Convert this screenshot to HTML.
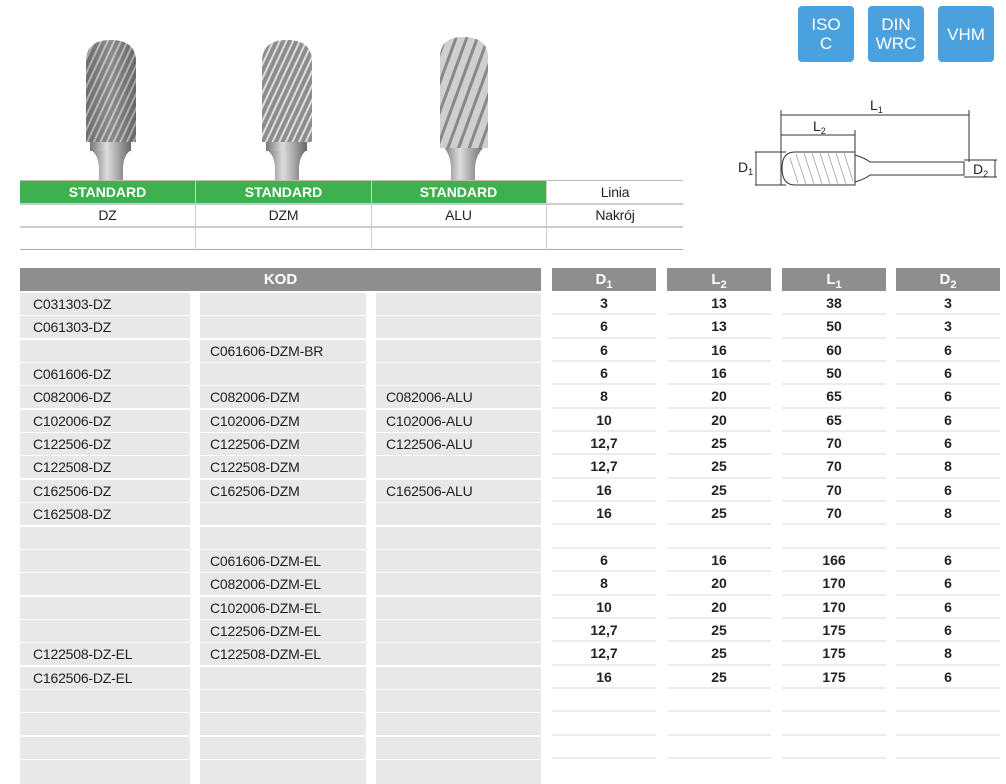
<!DOCTYPE html>
<html><head><meta charset="utf-8"><style>
body{margin:0;width:1006px;height:771px;background:#fff;position:relative;overflow:hidden;font-family:"Liberation Sans",sans-serif;}
.a{position:absolute;box-sizing:border-box;}
.t{font-size:14px;color:#222;letter-spacing:-0.2px;}
.g{background:#e8e8e8;}
.h{background:#8f8e8e;color:#fff;font-weight:bold;text-align:center;font-size:15px;}
.d{border-bottom:2px solid #ececec;text-align:center;font-weight:bold;font-size:14px;color:#222;}
.b{background:#4ba1de;color:#fff;border-radius:4px;text-align:center;font-size:17px;line-height:19px;display:flex;align-items:center;justify-content:center;}
</style></head><body>
<svg class="a" style="left:0;top:0" width="700" height="180">
<defs>
<linearGradient id="s" x1="0" x2="1"><stop offset="0" stop-color="#777"/><stop offset=".4" stop-color="#ddd"/><stop offset="1" stop-color="#666"/></linearGradient>
<linearGradient id="h" x1="0" x2="1"><stop offset="0" stop-color="#555"/><stop offset=".5" stop-color="#aaa"/><stop offset="1" stop-color="#444"/></linearGradient>
<pattern id="x" width="6" height="6" patternUnits="userSpaceOnUse" patternTransform="rotate(25)"><rect width="6" height="6" fill="#7a7a7a"/><rect width="2" height="6" fill="#d8d8d8"/></pattern>
<pattern id="y" width="10" height="10" patternUnits="userSpaceOnUse" patternTransform="rotate(20)"><rect width="10" height="10" fill="#bbb"/><rect width="3" height="10" fill="#555"/></pattern>
</defs>
<g>
<path d="M91 150 Q99 155 99 170 V182 H123 V170 Q123 155 131 150 Z" fill="url(#s)"/><rect x="90" y="140" width="41" height="11" fill="url(#s)"/>
<path d="M86 142 V62 Q86 40 111 40 Q136 40 136 62 V142 Z" fill="url(#x)"/>
<path d="M86 142 V62 Q86 40 111 40 Q136 40 136 62 V142 Z" fill="url(#h)" opacity=".35"/>
</g>
<g>
<path d="M267 150 Q275 155 275 170 V182 H299 V170 Q299 155 307 150 Z" fill="url(#s)"/><rect x="266" y="140" width="41" height="11" fill="url(#s)"/>
<path d="M262 142 V62 Q262 40 287 40 Q312 40 312 62 V142 Z" fill="url(#x)"/>
<path d="M262 142 V62 Q262 40 287 40 Q312 40 312 62 V142 Z" fill="#fff" opacity=".15"/>
</g>
<g>
<path d="M443 146 Q451 155 451 170 V182 H475 V170 Q475 155 485 146 Z" fill="url(#s)"/>
<path d="M440 148 V58 Q440 37 463 37 Q488 37 488 58 V148 Z" fill="url(#y)"/>
<path d="M440 148 V58 Q440 37 463 37 Q488 37 488 58 V148 Z" fill="#fff" opacity=".3"/>
</g>
</svg>
<div class="a" style="left:20px;top:180px;width:526px;height:23px;background:#3fb04e"></div>
<div class="a" style="left:20px;top:180px;width:663px;height:1px;background:#bbb"></div>
<div class="a" style="left:20px;top:203px;width:663px;height:2px;background:#ccc"></div>
<div class="a" style="left:20px;top:226px;width:663px;height:2px;background:#ccc"></div>
<div class="a" style="left:20px;top:249px;width:663px;height:1px;background:#aaa"></div>
<div class="a" style="left:195px;top:180px;width:1px;height:70px;background:#ccc"></div>
<div class="a" style="left:371px;top:180px;width:1px;height:70px;background:#ccc"></div>
<div class="a" style="left:546px;top:180px;width:1px;height:70px;background:#ccc"></div>
<div class="a" style="left:20px;top:184px;width:175px;text-align:center;color:#fff;font-weight:bold;font-size:14px">STANDARD</div>
<div class="a" style="left:196px;top:184px;width:175px;text-align:center;color:#fff;font-weight:bold;font-size:14px">STANDARD</div>
<div class="a" style="left:371px;top:184px;width:175px;text-align:center;color:#fff;font-weight:bold;font-size:14px">STANDARD</div>
<div class="a t" style="left:547px;top:184px;width:136px;text-align:center">Linia</div>
<div class="a t" style="left:20px;top:207px;width:175px;text-align:center">DZ</div>
<div class="a t" style="left:196px;top:207px;width:175px;text-align:center">DZM</div>
<div class="a t" style="left:371px;top:207px;width:175px;text-align:center">ALU</div>
<div class="a t" style="left:547px;top:207px;width:136px;text-align:center">Nakrój</div>
<div class="a b" style="left:798px;top:6px;width:56px;height:56px">ISO<br>C</div>
<div class="a b" style="left:868px;top:6px;width:56px;height:56px">DIN<br>WRC</div>
<div class="a b" style="left:938px;top:6px;width:56px;height:56px">VHM</div>
<svg class="a" style="left:720px;top:80px" width="286" height="120" font-family="Liberation Sans" font-size="14">
<g stroke="#333" fill="none" stroke-width="1">
<line x1="61" y1="35" x2="249" y2="35"/><line x1="61" y1="30" x2="61" y2="105"/><line x1="249" y1="30" x2="249" y2="82"/>
<line x1="61" y1="55" x2="135" y2="55"/><line x1="135" y1="50" x2="135" y2="72"/>
<line x1="35" y1="72" x2="66" y2="72"/><line x1="35" y1="105" x2="66" y2="105"/><line x1="36" y1="72" x2="36" y2="105"/>
<path d="M75 72 H135 V105 H75 Q62 105 62 88 Q62 72 75 72 Z" fill="#fff"/>
<path d="M135 75 Q145 78 150 82 H244 V95 H150 Q145 99 135 102"/>
<line x1="244" y1="82" x2="244" y2="95"/>
<line x1="244" y1="80" x2="277" y2="80"/><line x1="244" y1="97" x2="277" y2="97"/><line x1="275" y1="80" x2="275" y2="97"/>
</g>
<g stroke="#888" stroke-width=".6">
<path d="M70 78 l8 25 M76 74 l10 30 M84 73 l10 31 M92 73 l10 31 M100 73 l10 31 M108 73 l10 31 M116 73 l10 31 M124 73 l9 28"/>
</g>
<text x="150" y="30" fill="#222">L<tspan font-size="9" dy="3">1</tspan></text>
<text x="93" y="51" fill="#222">L<tspan font-size="9" dy="3">2</tspan></text>
<text x="18" y="92" fill="#222">D<tspan font-size="9" dy="3">1</tspan></text>
<text x="253" y="94" fill="#222">D<tspan font-size="9" dy="3">2</tspan></text>
</svg>
<div class="a h" style="left:20px;top:268px;width:521px;height:23px;line-height:23px">KOD</div>
<div class="a h" style="left:552px;top:268px;width:104px;height:23px;line-height:23px">D<sub style="font-size:11px">1</sub></div>
<div class="a h" style="left:667px;top:268px;width:104px;height:23px;line-height:23px">L<sub style="font-size:11px">2</sub></div>
<div class="a h" style="left:782px;top:268px;width:104px;height:23px;line-height:23px">L<sub style="font-size:11px">1</sub></div>
<div class="a h" style="left:896px;top:268px;width:104px;height:23px;line-height:23px">D<sub style="font-size:11px">2</sub></div>
<div id="rows"></div>
<script>
var R=[["C031303-DZ","","","3","13","38","3"],["C061303-DZ","","","6","13","50","3"],["","C061606-DZM-BR","","6","16","60","6"],["C061606-DZ","","","6","16","50","6"],["C082006-DZ","C082006-DZM","C082006-ALU","8","20","65","6"],["C102006-DZ","C102006-DZM","C102006-ALU","10","20","65","6"],["C122506-DZ","C122506-DZM","C122506-ALU","12,7","25","70","6"],["C122508-DZ","C122508-DZM","","12,7","25","70","8"],["C162506-DZ","C162506-DZM","C162506-ALU","16","25","70","6"],["C162508-DZ","","","16","25","70","8"],["","","","","","",""],["","C061606-DZM-EL","","6","16","166","6"],["","C082006-DZM-EL","","8","20","170","6"],["","C102006-DZM-EL","","10","20","170","6"],["","C122506-DZM-EL","","12,7","25","175","6"],["C122508-DZ-EL","C122508-DZM-EL","","12,7","25","175","8"],["C162506-DZ-EL","","","16","25","175","6"],["","","","","","",""],["","","","","","",""],["","","","","","",""],["","","","","","",""]];
var kx=[[20,170],[200,166],[376,165]],dx=[552,667,782,896],h="";
R.forEach(function(r,i){var y=292+i*23.35;var hh=(i==20)?24:22;
kx.forEach(function(c,j){h+='<div class="a g t" style="left:'+c[0]+'px;top:'+(y+1)+'px;width:'+c[1]+'px;height:'+hh+'px;line-height:22px;padding-left:'+(j?10:13)+'px">'+r[j]+'</div>';});
if(i<20)dx.forEach(function(x,j){h+='<div class="a d" style="left:'+x+'px;top:'+y+'px;width:104px;height:23.35px;line-height:22px">'+r[3+j]+'</div>';});
});
document.getElementById("rows").innerHTML=h;
</script>
</body></html>
